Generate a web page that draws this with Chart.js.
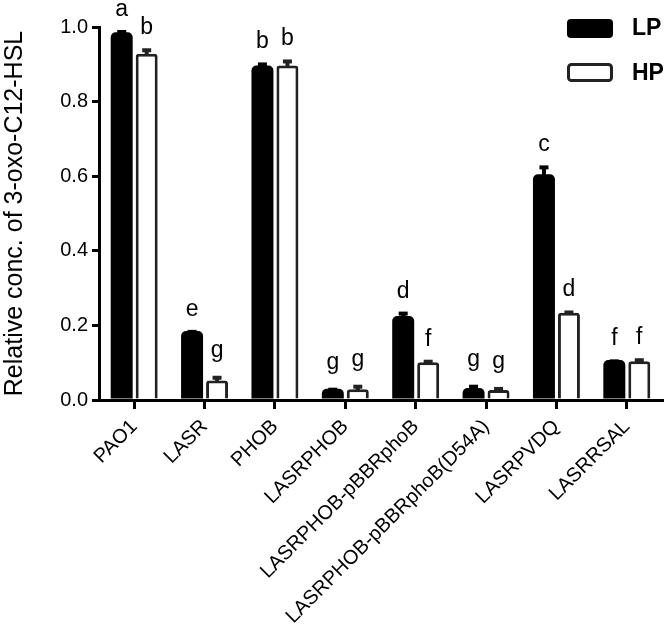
<!DOCTYPE html>
<html>
<head>
<meta charset="utf-8">
<script src="https://cdn.jsdelivr.net/npm/chart.js@4/dist/chart.umd.min.js"></script>
<style>
html,body{margin:0;padding:0;background:#fff;overflow:hidden;}
#wrap{width:666px;height:631px;position:relative;}
</style>
</head>
<body>
<div id="wrap"><canvas id="c"></canvas></div>
<script>
const categories = ['PAO1','LASR','PHOB','LASRPHOB','LASRPHOB-pBBRphoB','LASRPHOB-pBBRphoB(D54A)','LASRPVDQ','LASRRSAL'];
const seriesNames = ['LP','HP'];
const lpValues = [0.986, 0.185, 0.897, 0.030, 0.225, 0.032, 0.605, 0.107];
const lpErrors = [0.006, 0.003, 0.008, 0.003, 0.012, 0.009, 0.024, 0.002];
const hpValues = [0.928, 0.052, 0.897, 0.029, 0.101, 0.027, 0.234, 0.104];
const hpErrors = [0.015, 0.013, 0.016, 0.012, 0.007, 0.008, 0.006, 0.008];
const lpLetters = ['a','e','b','g','d','g','c','f'];
const hpLetters = ['b','g','b','g','f','g','d','f'];
const yTickValues = [0, 0.2, 0.4, 0.6, 0.8, 1.0];
const yTitle = 'Relative conc. of 3-oxo-C12-HSL';

const FONT = "'Liberation Sans', Arial, sans-serif";
const errs = [lpErrors, hpErrors];
const letters = [lpLetters, hpLetters];
const errColors = ['#000', '#222'];

const errorBarPlugin = {
  id: 'errorBars',
  afterDatasetsDraw(chart) {
    const ctx = chart.ctx;
    const y = chart.scales.y;
    chart.data.datasets.forEach((ds, di) => {
      const meta = chart.getDatasetMeta(di);
      meta.data.forEach((bar, i) => {
        const v = ds.data[i];
        const e = errs[di][i];
        const yBar = y.getPixelForValue(v);
        const yTop = y.getPixelForValue(v + e);
        ctx.save();
        ctx.strokeStyle = errColors[di];
        ctx.fillStyle = errColors[di];
        ctx.lineWidth = 4;
        ctx.beginPath();
        ctx.moveTo(bar.x, yBar + 2);
        ctx.lineTo(bar.x, yTop + 2);
        ctx.stroke();
        ctx.fillRect(bar.x - 4.5, yTop, 9, 4);
        ctx.restore();
        ctx.save();
        ctx.font = '23px ' + FONT;
        ctx.fillStyle = '#000';
        ctx.textAlign = 'center';
        ctx.textBaseline = 'alphabetic';
        const t = letters[di][i];
        const m = ctx.measureText(t);
        const desc = Math.max(0, m.actualBoundingBoxDescent || 0);
        ctx.fillText(t, bar.x, yTop - 14 - desc);
        ctx.restore();
      });
    });
  }
};

const legendPlugin = {
  id: 'customLegend',
  afterDraw(chart) {
    const ctx = chart.ctx;
    const items = [
      {y: 19, fill: '#000', stroke: '#000'},
      {y: 64, fill: '#fff', stroke: '#222'}
    ];
    chart.data.datasets.forEach((ds, i) => {
      const it = items[i];
      ctx.save();
      ctx.beginPath();
      if (i === 0) {
        ctx.fillStyle = it.fill;
        ctx.roundRect(567, it.y, 46, 19, 4);
        ctx.fill();
      } else {
        ctx.lineWidth = 3;
        ctx.strokeStyle = it.stroke;
        ctx.fillStyle = '#fff';
        ctx.roundRect(568.5, it.y + 0.5, 43, 16, 3);
        ctx.fill();
        ctx.stroke();
      }
      ctx.font = 'bold 23px ' + FONT;
      ctx.fillStyle = '#000';
      ctx.textAlign = 'left';
      ctx.textBaseline = 'middle';
      ctx.fillText(ds.label, 632, it.y + 10);
      ctx.restore();
    });
  }
};

new Chart(document.getElementById('c'), {
  type: 'bar',
  data: {
    labels: categories,
    datasets: [
      {label: seriesNames[0], data: lpValues, backgroundColor: '#000', borderColor: '#000', borderWidth: 0, borderRadius: {topLeft: 5, topRight: 5}, borderSkipped: 'bottom'},
      {label: seriesNames[1], data: hpValues, backgroundColor: '#fff', borderColor: '#222', borderWidth: 3, borderRadius: {topLeft: 3, topRight: 3}, borderSkipped: 'bottom'}
    ]
  },
  options: {
    responsive: true,
    maintainAspectRatio: false,
    animation: false,
    devicePixelRatio: 1,
    layout: {padding: {top: 27, right: 4, bottom: 0, left: 0}},
    datasets: {bar: {categoryPercentage: 0.71, barPercentage: 0.88}},
    plugins: {legend: {display: false}, tooltip: {enabled: false}},
    scales: {
      x: {
        offset: true,
        grid: {offset: false, drawOnChartArea: false, drawTicks: true, tickLength: 9, color: '#000', lineWidth: 3},
        border: {display: true, color: '#000', width: 3},
        ticks: {autoSkip: false, maxRotation: 45, minRotation: 45, color: '#000', font: {size: 20, family: FONT}, padding: 6},
        afterFit(s) { s.height = 231; }
      },
      y: {
        min: 0, max: 1.0,
        afterBuildTicks(s) { s.ticks = yTickValues.map(v => ({value: v})); },
        grid: {drawOnChartArea: false, drawTicks: true, tickLength: 7, color: '#000', lineWidth: 3},
        border: {display: true, color: '#000', width: 3},
        ticks: {color: '#000', font: {size: 20, family: FONT}, padding: 4, callback: v => Number(v).toFixed(1)},
        title: {display: true, text: yTitle, color: '#000', font: {size: 25, family: FONT}, padding: {top: 0, bottom: 4}},
        afterFit(s) { s.width = 99; }
      }
    }
  },
  plugins: [errorBarPlugin, legendPlugin]
});
</script>
</body>
</html>
